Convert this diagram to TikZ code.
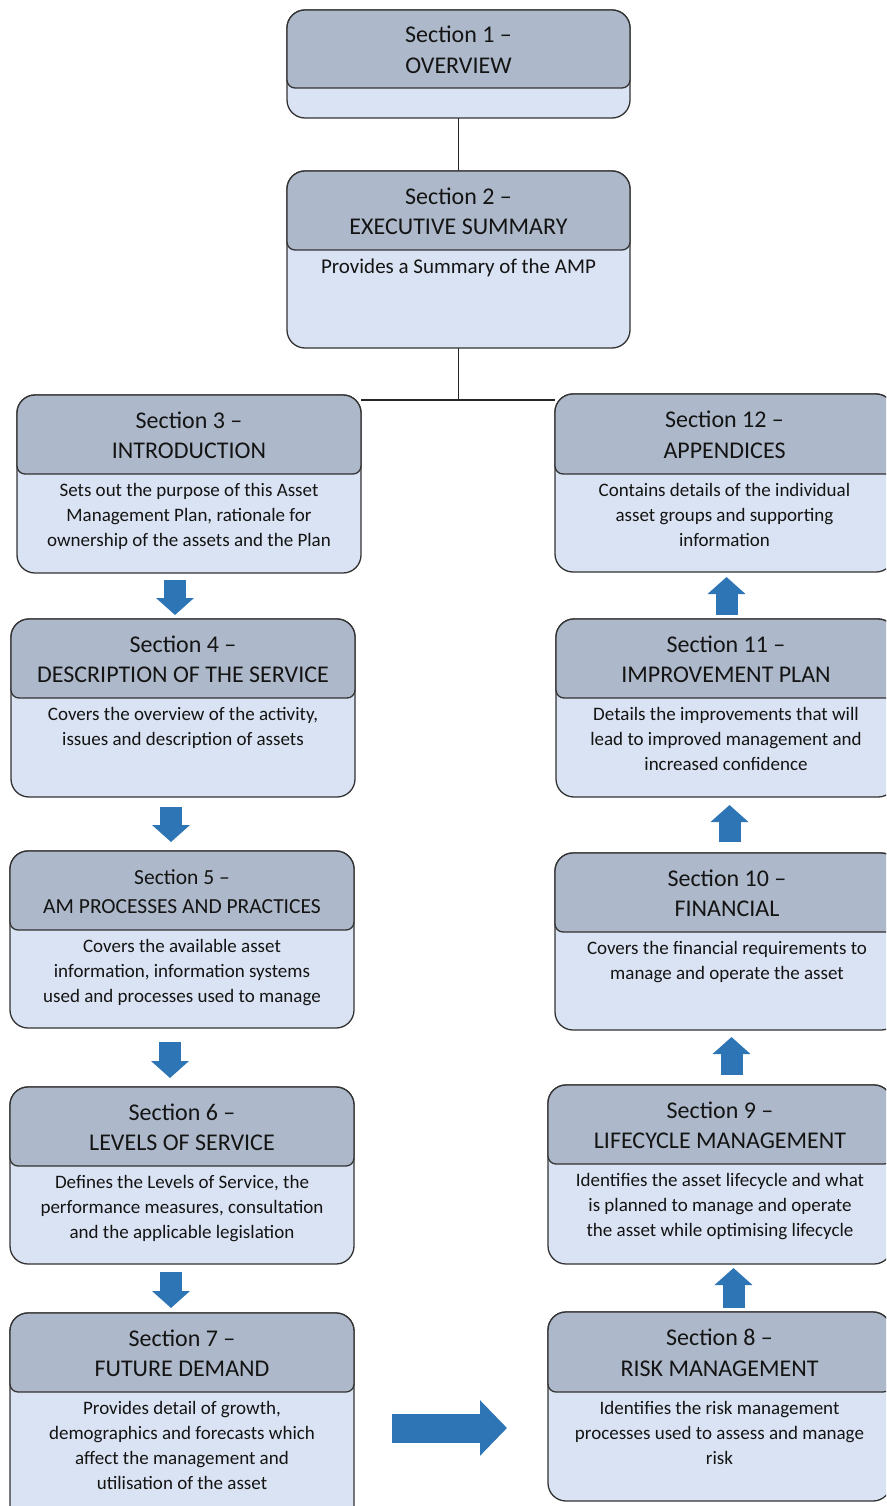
\documentclass[tikz,border=0pt]{standalone}
\usepackage{fontspec}
\setmainfont{Carlito}
\usetikzlibrary{arrows.meta}
\definecolor{hdrc}{HTML}{ADB9CA}
\definecolor{bodyc}{HTML}{DAE3F3}
\definecolor{arrowc}{HTML}{2E75B6}
\definecolor{inkc}{HTML}{141414}
\pgfdeclarelayer{bg}
\pgfsetlayers{bg,main}
\tikzset{
  bodybox/.style={draw=black!80, fill=bodyc, line width=1.3pt, rounded corners=18pt, inner sep=0pt, outer sep=0pt},
  hdrbox/.style={draw=black!80, fill=hdrc, line width=1.3pt},
  hdrtxt/.style={font=\fontsize{24}{30.5}\selectfont, align=center, inner sep=0pt, text=inkc},
  hdrsmall/.style={font=\fontsize{21.5}{29}\selectfont},
  bodytxt/.style={font=\fontsize{19}{25}\selectfont, align=center, inner sep=0pt, text=inkc},
  conn/.style={draw=black!85, line width=1.2pt},
  barrow/.style={draw=arrowc, line width=22pt, -{Triangle[length=17pt,width=37pt]}},
  bigarrow/.style={draw=arrowc, line width=29pt, -{Triangle[length=27pt,width=54pt]}}
}
\newcommand\secbox[9]{%
  \pgfmathsetmacro\bw{#4-#2}\pgfmathsetmacro\bh{#5-#3}%
  \pgfmathsetmacro\cx{(#2+#4)/2}\pgfmathsetmacro\hy{(#3+#6)/2}%
  \node[bodybox, minimum width=\bw pt, minimum height=\bh pt, anchor=north west] (#1) at (#2,#3) {};
  \path[hdrbox] (#2,\hy) [rounded corners=18pt] -- (#2,#3) -- (#4,#3) -- (#4,\hy) [rounded corners=8pt] -- (#4,#6) -- (#2,#6) -- cycle;
  \node[hdrtxt,#7] (#1h) at (\cx,\hy+1) {#8};
  \node[bodytxt, anchor=north] (#1t) at (\cx,#6+9) {#9};
}
\begin{document}
\begin{tikzpicture}[x=1pt,y=-1pt]
\useasboundingbox (0,0) rectangle (886,1506);
\clip (0,0) rectangle (886,1506);

\secbox{b1}{287}{10}{630}{118}{88}{}{Section 1 –\\OVERVIEW}{}
\secbox{b2}{287}{171}{630}{348}{250}{}{Section 2 –\\EXECUTIVE SUMMARY}{\fontsize{21}{25}\selectfont Provides a Summary of the AMP}
\secbox{b3}{17}{395}{361}{573}{474}{}{Section 3 –\\INTRODUCTION}{Sets out the purpose of this Asset\\Management Plan, rationale for\\ownership of the assets and the Plan}
\secbox{b12}{555}{394}{894}{572}{474}{}{Section 12 –\\APPENDICES}{Contains details of the individual\\asset groups and supporting\\information}
\secbox{b4}{11}{619}{355}{797}{698}{}{Section 4 –\\DESCRIPTION OF THE SERVICE}{Covers the overview of the activity,\\issues and description of assets}
\secbox{b11}{556}{619}{896}{797}{698}{}{Section 11 –\\IMPROVEMENT PLAN}{Details the improvements that will\\lead to improved management and\\increased confidence}
\secbox{b5}{10}{851}{354}{1028}{930}{hdrsmall}{Section 5 –\\AM PROCESSES AND PRACTICES}{Covers the available asset\\information, information systems\\used and processes used to manage}
\secbox{b10}{555}{853}{899}{1030}{932}{}{Section 10 –\\FINANCIAL}{Covers the financial requirements to\\manage and operate the asset}
\secbox{b6}{10}{1087}{354}{1264}{1166}{}{Section 6 –\\LEVELS OF SERVICE}{Defines the Levels of Service, the\\performance measures, consultation\\and the applicable legislation}
\secbox{b9}{548}{1085}{892}{1264}{1164}{}{Section 9 –\\LIFECYCLE MANAGEMENT}{Identifies the asset lifecycle and what\\is planned to manage and operate\\the asset while optimising lifecycle}
\secbox{b7}{10}{1313}{354}{1525}{1392}{}{Section 7 –\\FUTURE DEMAND}{Provides detail of growth,\\demographics and forecasts which\\affect the management and\\utilisation of the asset}
\secbox{b8}{548}{1312}{891}{1501}{1392}{}{Section 8 –\\RISK MANAGEMENT}{Identifies the risk management\\processes used to assess and manage\\risk}

\begin{pgfonlayer}{bg}
  \fill[white] (0,0) rectangle (886,1506);
  \coordinate (j) at ([yshift=-52pt]b2.south);
  \draw[conn] (b1.south) -- (b2.north);
  \draw[conn] (b2.south) -- (j);
  \draw[conn] (b3.east |- j) -- (b12.west |- j);
\end{pgfonlayer}

% left column, downward
\draw[barrow] ([xshift=-14pt,yshift=-7pt]b3.south) -- ([xshift=-8pt,yshift=4pt]b4.north);
\draw[barrow] ([xshift=-12pt,yshift=-10pt]b4.south) -- ([xshift=-11pt,yshift=9pt]b5.north);
\draw[barrow] ([xshift=-12pt,yshift=-14pt]b5.south) -- ([xshift=-12pt,yshift=9pt]b6.north);
\draw[barrow] ([xshift=-11pt,yshift=-8pt]b6.south) -- ([xshift=-11pt,yshift=5pt]b7.north);
% across
\draw[bigarrow] ([xshift=38pt,yshift=-9pt]b7.east) -- ([xshift=-41pt,yshift=-21.5pt]b8.west);
% right column, upward
\draw[barrow] ([xshift=14pt,yshift=4pt]b8.north) -- ([xshift=13.5pt,yshift=-4pt]b9.south);
\draw[barrow] ([xshift=11.5pt,yshift=10pt]b9.north) -- ([xshift=4.5pt,yshift=-7pt]b10.south);
\draw[barrow] ([xshift=2.5pt,yshift=11pt]b10.north) -- ([xshift=3.5pt,yshift=-8pt]b11.south);
\draw[barrow] ([xshift=0.5pt,yshift=4pt]b11.north) -- ([xshift=2pt,yshift=-5pt]b12.south);
\end{tikzpicture}
\end{document}
